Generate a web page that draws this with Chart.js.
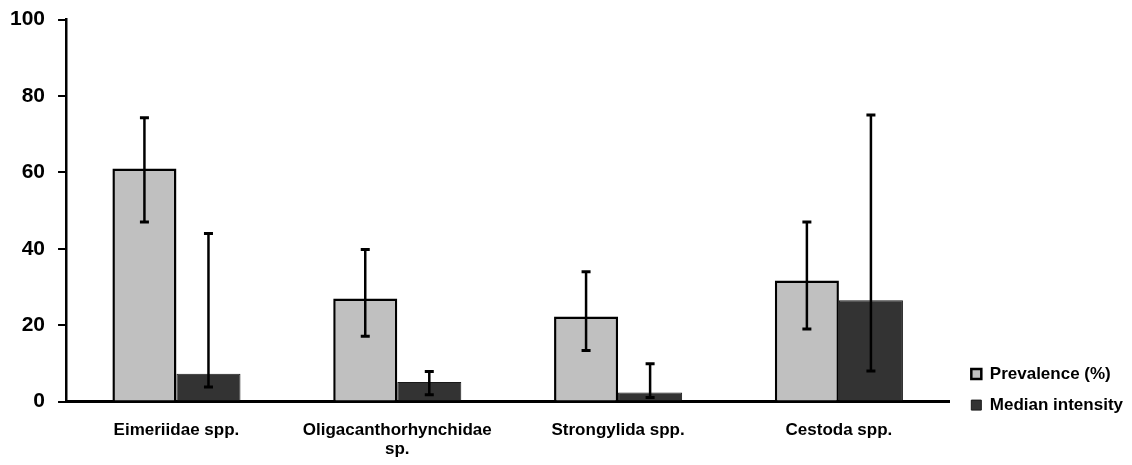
<!DOCTYPE html>
<html>
<head>
<meta charset="utf-8">
<script src="https://cdn.jsdelivr.net/npm/chart.js@4/dist/chart.umd.min.js"></script>
<style>
  html, body { margin: 0; padding: 0; background: #fff; }
  #wrap { position: relative; width: 1132px; height: 465px; }
</style>
</head>
<body>
<div id="wrap"><canvas id="chart"></canvas></div>
<script>
// Parasite taxa shown on the x axis
const categories = [
  'Eimeriidae spp.',
  ['Oligacanthorhynchidae', 'sp.'],
  'Strongylida spp.',
  'Cestoda spp.'
];

// Prevalence (%) with its confidence limits
const prevalence     = [61, 27, 22.3, 31.7];
const prevalenceLow  = [47, 17.1, 13.4, 19];
const prevalenceHigh = [74.3, 39.8, 34, 47];

// Median intensity with its confidence limits
const medianIntensity = [7.3, 5.1, 2.4, 26.5];
const medianLow       = [3.8, 1.8, 1.1, 8];
const medianHigh      = [44, 7.9, 9.9, 75];

// Y axis tick values
const yTicks = [0, 20, 40, 60, 80, 100];

const FONT = "'Liberation Sans', Arial, Helvetica, sans-serif";

// Draws the vertical error bars with end caps on top of each bar
const errorBars = {
  id: 'errorBars',
  afterDatasetsDraw(chart) {
    const ctx = chart.ctx;
    const y = chart.scales.y;
    chart.data.datasets.forEach((ds, i) => {
      const meta = chart.getDatasetMeta(i);
      if (meta.hidden) return;
      meta.data.forEach((bar, j) => {
        const top = y.getPixelForValue(ds.errHigh[j]);
        const bottom = y.getPixelForValue(ds.errLow[j]);
        const x = bar.x;
        ctx.save();
        ctx.strokeStyle = '#000';
        ctx.lineWidth = 2.5;
        ctx.beginPath();
        ctx.moveTo(x, top);
        ctx.lineTo(x, bottom);
        ctx.stroke();
        ctx.lineWidth = 3;
        ctx.beginPath();
        ctx.moveTo(x - 4.5, top);
        ctx.lineTo(x + 4.5, top);
        ctx.moveTo(x - 4.5, bottom);
        ctx.lineTo(x + 4.5, bottom);
        ctx.stroke();
        ctx.restore();
      });
    });
  }
};

// Nudges the legend block a little right and down, next to the x axis
const legendOffset = {
  id: 'legendOffset',
  afterLayout(chart) {
    const lg = chart.legend;
    if (!lg) return;
    const dx = 8, dy = 26;
    lg.left += dx; lg.right += dx;
    lg.top += dy; lg.bottom += dy;
  }
};

new Chart(document.getElementById('chart'), {
  type: 'bar',
  data: {
    labels: categories,
    datasets: [
      {
        label: 'Prevalence (%)',
        data: prevalence,
        errLow: prevalenceLow,
        errHigh: prevalenceHigh,
        backgroundColor: '#c0c0c0',
        borderColor: '#000',
        borderWidth: 2.5
      },
      {
        label: 'Median intensity',
        data: medianIntensity,
        errLow: medianLow,
        errHigh: medianHigh,
        backgroundColor: '#333333',
        borderColor: '#1a1a1a',
        borderWidth: 1
      }
    ]
  },
  options: {
    responsive: true,
    maintainAspectRatio: false,
    animation: false,
    datasets: {
      bar: { categoryPercentage: 0.58, barPercentage: 1 }
    },
    layout: { padding: { left: -3, top: 0, right: 7, bottom: -5 } },
    plugins: {
      tooltip: { enabled: false },
      legend: {
        position: 'right',
        align: 'end',
        fullSize: false,
        labels: {
          boxWidth: 10,
          boxHeight: 10,
          padding: 14,
          color: '#000',
          font: { family: FONT, size: 17, weight: 'bold', lineHeight: 1.2 }
        }
      }
    },
    scales: {
      x: {
        grid: { display: false },
        border: { display: true, color: '#000', width: 3 },
        ticks: {
          color: '#000',
          padding: 11.5,
          maxRotation: 0,
          autoSkip: false,
          font: { family: FONT, size: 17, weight: 'bold', lineHeight: 1.1 }
        }
      },
      y: {
        min: 0,
        max: 100,
        afterBuildTicks(axis) { axis.ticks = yTicks.map(v => ({ value: v })); },
        afterFit(axis) { axis.paddingTop = 19.5; axis.paddingBottom = 0; },
        grid: {
          drawOnChartArea: false,
          drawTicks: true,
          tickLength: 8,
          color: '#000',
          lineWidth: 2
        },
        border: { display: true, color: '#000', width: 2.5 },
        ticks: {
          color: '#000',
          padding: 13,
          font: { family: FONT, size: 21, weight: 'bold' }
        }
      }
    }
  },
  plugins: [errorBars, legendOffset]
});
</script>
</body>
</html>
